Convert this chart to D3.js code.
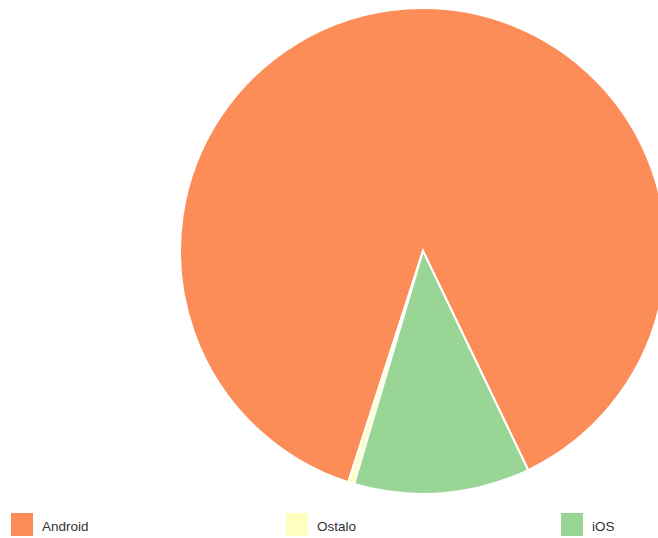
<!DOCTYPE html>
<html lang="hr">
<head>
  <meta charset="UTF-8">
  <title>Mobilni OS</title>
  <script src="https://d3js.org/d3.v7.min.js"></script>
  <style>
    html, body {
      margin: 0;
      padding: 0;
      background: #fff;
      overflow: hidden;
    }

    .legend-label {
      font-family: "Liberation Sans", Arial, sans-serif;
      font-size: 13.5px;
      fill: #333;
    }
  </style>
</head>
<body>
  <div id="chart"></div>

  <script>
    // Data
    const categories = ["Android", "Ostalo", "iOS"];
    const shares = [87.9, 0.4, 11.7];
    const colors = ["#fc8d59", "#ffffbf", "#99d594"];

    const width = 658,
          height = 538;

    const cx = 423, cy = 251, radius = 243;

    const svg = d3.select("#chart")
      .append("svg")
      .attr("width", width)
      .attr("height", height);

    const color = d3.scaleOrdinal()
      .domain(categories)
      .range(colors);

    // slices run counter-clockwise, iOS ends where Android starts
    const startDeg = 154.35;
    const pie = d3.pie()
      .sort(null)
      .value((d, i) => shares[i])
      .startAngle(startDeg * Math.PI / 180)
      .endAngle(startDeg * Math.PI / 180 - 2 * Math.PI);

    const arc = d3.arc()
      .innerRadius(0)
      .outerRadius(radius);

    const g = svg.append("g")
      .attr("transform", `translate(${cx},${cy})`);

    g.selectAll("path")
      .data(pie(categories))
      .enter()
      .append("path")
      .attr("d", arc)
      .attr("fill", d => color(d.data))
      .attr("stroke", "#fff")
      .attr("stroke-width", 2);

    // Legend
    const legendX = d3.scalePoint()
      .domain(categories)
      .range([11, 561]);

    const legend = svg.selectAll(".legend")
      .data(categories)
      .enter()
      .append("g")
      .attr("class", "legend")
      .attr("transform", d => `translate(${legendX(d)},513)`);

    legend.append("rect")
      .attr("width", 22)
      .attr("height", 23)
      .attr("fill", d => color(d));

    legend.append("text")
      .attr("class", "legend-label")
      .attr("x", 31)
      .attr("y", 18)
      .text(d => d);
  </script>
</body>
</html>
